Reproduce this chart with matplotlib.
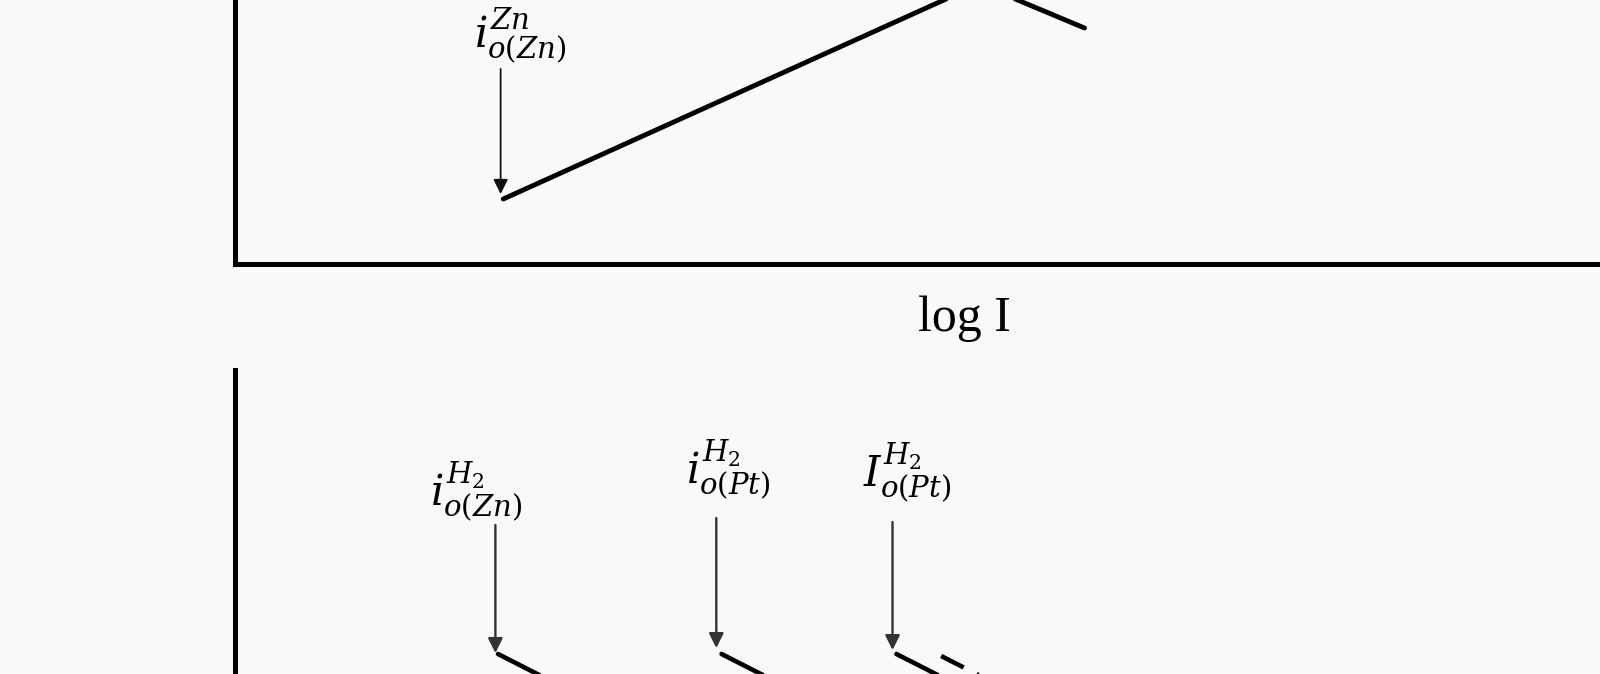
import matplotlib.pyplot as plt

plt.rcParams['mathtext.fontset'] = 'dejavuserif'

# Zn anodic line and the falling H2 line it meets (log I, E)
zn_log_i = [-7.96, -4.34]
zn_e = [0.65, 2.80]
h2_top_log_i = [-4.34, -3.54]
h2_top_e = [2.80, 2.36]
zn_label = r'$i_{o(Zn)}^{Zn}$'
zn_arrow_log_i = -7.98
zn_arrow_e = [1.95, 0.70]

# H2 cathodic lines on Zn and Pt (lower panel)
h2_labels = [r'$i_{o(Zn)}^{H_2}$', r'$i_{o(Pt)}^{H_2}$', r'$I_{o(Pt)}^{H_2}$']
h2_log_i0 = [-8.0, -6.30, -4.97]
h2_e0 = [1.20, 1.20, 1.20]
h2_arrow_log_i = [-8.02, -6.34, -5.00]
h2_arrow_top = [2.49, 2.56, 2.52]
h2_arrow_tip = [1.21, 1.26, 1.24]
h2_label_pos = [(-8.17, 2.82), (-6.25, 3.04), (-4.89, 3.01)]
dashed_log_i0 = -4.63
dashed_e0 = 1.18
tafel_slope = -0.67   # dE per decade
line_span = 1.0       # decades drawn past i0

W, H = 1600, 674
bg = '#f9f9f9'


def box(left, top, right, bottom):
    return [left / W, 1 - bottom / H, (right - left) / W, (bottom - top) / H]


fig = plt.figure(figsize=(W / 100, H / 100), dpi=100, facecolor=bg)

# upper panel
ax1 = fig.add_axes(box(235, -36, 1600, 264))
ax1.set_xlim(-10, 0.38)
ax1.set_ylim(0, 3)
ax1.plot(zn_log_i, zn_e, color='black', lw=3.5, solid_capstyle='round')
ax1.plot(h2_top_log_i, h2_top_e, color='black', lw=3.5, solid_capstyle='round')
ax1.annotate('', xy=(zn_arrow_log_i, zn_arrow_e[1]), xytext=(zn_arrow_log_i, zn_arrow_e[0]),
             arrowprops=dict(arrowstyle='-|>', color='#111111', lw=1.3, mutation_scale=22,
                             shrinkA=0, shrinkB=0))
ax1.text(-7.83, 2.28, zn_label, fontsize=30, ha='center', va='center')

# lower panel
ax2 = fig.add_axes(box(235, 370, 1600, 774))
ax2.set_xlim(-10, 0.38)
ax2.set_ylim(0, 4.04)
for x0, e0 in zip(h2_log_i0, h2_e0):
    ax2.plot([x0, x0 + line_span], [e0, e0 + tafel_slope * line_span],
             color='black', lw=3.3, solid_capstyle='round')
ax2.plot([dashed_log_i0, dashed_log_i0 + line_span],
         [dashed_e0, dashed_e0 + tafel_slope * line_span],
         color='black', lw=3.3, linestyle=(0, (5.5, 3.2)))
for x, top, tip in zip(h2_arrow_log_i, h2_arrow_top, h2_arrow_tip):
    ax2.annotate('', xy=(x, tip), xytext=(x, top),
                 arrowprops=dict(arrowstyle='-|>', color='#333333', lw=1.7, mutation_scale=22,
                                 shrinkA=0, shrinkB=0))
for lab, (x, y) in zip(h2_labels, h2_label_pos):
    ax2.text(x, y, lab, fontsize=30, ha='center', va='center')

for ax in (ax1, ax2):
    ax.set_facecolor(bg)
    ax.set_xticks([])
    ax.set_yticks([])
    for s in ('top', 'right'):
        ax.spines[s].set_visible(False)
    ax.spines['left'].set_linewidth(3.6)
ax1.spines['bottom'].set_linewidth(3.6)
ax2.spines['bottom'].set_visible(False)

fig.text(964 / W, 1 - 319 / H, 'log I', fontsize=36, family='Liberation Serif',
         ha='center', va='center')

fig.savefig('out.png', dpi=100, facecolor=bg)
